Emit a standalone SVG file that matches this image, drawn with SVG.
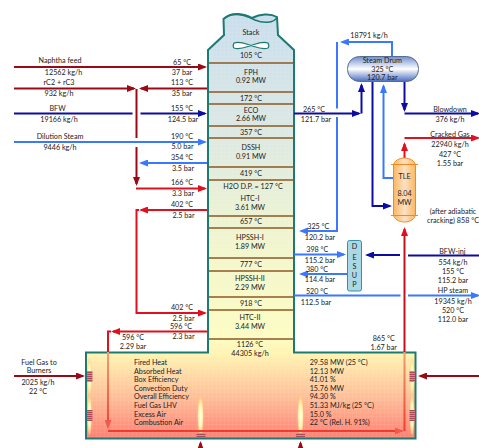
<svg xmlns="http://www.w3.org/2000/svg" width="479" height="448" viewBox="0 0 479 448">
<style>
text{font-family:"Lato","Carlito","Liberation Sans",sans-serif;font-size:7.2px;fill:#222;text-anchor:middle}
text.l{text-anchor:start}
.c{fill:none;stroke-width:2}
.dr{stroke:#9a0a16}.r{stroke:#e0101e}.db{stroke:#0c0ca4}.b{stroke:#3a78ff}
.tray{stroke:#8a5a24;stroke-width:1.3}
.h{fill:url(#hatch);stroke:none}
</style>
<defs>
<linearGradient id="body" gradientUnits="userSpaceOnUse" x1="0" y1="14" x2="0" y2="439">
<stop offset="0" stop-color="#c9deee"/><stop offset=".27" stop-color="#dbe8e4"/><stop offset=".55" stop-color="#f2f6cc"/><stop offset=".76" stop-color="#fdfcc2"/><stop offset=".8" stop-color="#fff4b0"/><stop offset=".9" stop-color="#ffbf98"/><stop offset="1" stop-color="#ff7f72"/>
</linearGradient>
<pattern id="grid" width="4" height="4" patternUnits="userSpaceOnUse"><path d="M4 0H0V4" fill="none" stroke="#fff" stroke-opacity=".22" stroke-width=".5"/></pattern>
<pattern id="hatch" width="2" height="2" patternUnits="userSpaceOnUse"><rect width="2" height="2" fill="#d88a90"/><rect width="2" height="1" fill="#a84a5a"/></pattern>
<linearGradient id="fade" gradientUnits="userSpaceOnUse" x1="0" y1="352" x2="0" y2="431"><stop offset="0" stop-color="#f0a070"/><stop offset="1" stop-color="#ee3c30"/></linearGradient>
<linearGradient id="drum" x1="0" y1="0" x2="0" y2="1"><stop offset="0" stop-color="#6f8fd0"/><stop offset=".5" stop-color="#fff"/><stop offset="1" stop-color="#4a6cc0"/></linearGradient>
<linearGradient id="tle" x1="0" y1="0" x2="1" y2="0"><stop offset="0" stop-color="#fbb860"/><stop offset=".5" stop-color="#fde0c4"/><stop offset="1" stop-color="#fbb860"/></linearGradient>
<radialGradient id="flame"><stop offset="0" stop-color="#fffff0"/><stop offset=".6" stop-color="#fff6b0"/><stop offset="1" stop-color="#ffd080" stop-opacity=".5"/></radialGradient>
<marker id="adr" markerUnits="userSpaceOnUse" markerWidth="9" markerHeight="7" refX="7" refY="3.5" orient="auto"><path d="M0 0L9 3.5L0 7Z" fill="#9a0a16"/></marker>
<marker id="ar" markerUnits="userSpaceOnUse" markerWidth="9" markerHeight="7" refX="7" refY="3.5" orient="auto"><path d="M0 0L9 3.5L0 7Z" fill="#e0101e"/></marker>
<marker id="adb" markerUnits="userSpaceOnUse" markerWidth="9" markerHeight="7" refX="7" refY="3.5" orient="auto"><path d="M0 0L9 3.5L0 7Z" fill="#0c0ca4"/></marker>
<marker id="ab" markerUnits="userSpaceOnUse" markerWidth="9" markerHeight="7" refX="7" refY="3.5" orient="auto"><path d="M0 0L9 3.5L0 7Z" fill="#3a78ff"/></marker>
<marker id="af" markerUnits="userSpaceOnUse" markerWidth="9" markerHeight="7" refX="7" refY="3.5" orient="auto"><path d="M0 0L9 3.5L0 7Z" fill="#f05a48"/></marker>
</defs>

<g id="furnace-column">
<path id="outline" d="M208 50L224 35L223.500 19C232 11 245 14 252 18C260 14 270 13 277 17L278 35L294 50V352.500H415.500V438.500H86V352.500H208Z" fill="url(#body)" stroke="none"/>
<path d="M208 50L224 35L223.500 19C232 11 245 14 252 18C260 14 270 13 277 17L278 35L294 50V352.500H415.500V438.500H86V352.500H208Z" fill="url(#grid)" stroke="#1d7a72" stroke-width="2"/>
<path d="M223.500 19C232 11 245 15 255 20C262 23 274 24 277 17" fill="none" stroke="#1d7a72" stroke-width="1.500"/>
<path d="M234 43C240 41 246 44 251 45.500C256 44 262 41 268 43C269 45 269 47 268 48C262 50 256 47 251 45.500C246 47 240 50 234 48C233 47 233 45 234 43Z" fill="#fff" stroke="#1d7a72" stroke-width="1.200"/>
<g class="trays">
<path class="tray" d="M209 63H293M209 92H293M209 104H293M209 126H293M209 138H293M209 167H293M209 180H293M209 216H293M209 228H293M209 258H293M209 271H293M209 297H293M209 310H293M209 339H293"/>
</g>
<text x="251" y="34.700">Stack</text>
<text x="251" y="58">105 °C</text>
<text x="251" y="74.700">FPH</text>
<text x="251" y="83">0.92 MW</text>
<text x="251" y="100.700">172 °C</text>
<text x="251" y="113">ECO</text>
<text x="251" y="121">2.66 MW</text>
<text x="251" y="134.700">357 °C</text>
<text x="251" y="149.700">DSSH</text>
<text x="251" y="158.700">0.91 MW</text>
<text x="251" y="176">419 °C</text>
<text x="253" y="188.700">H2O D.P. = 127 °C</text>
<text x="250" y="201.300">HTC-I</text>
<text x="250" y="210">3.61 MW</text>
<text x="251" y="223.700">657 °C</text>
<text x="250" y="240.300">HPSSH-I</text>
<text x="250" y="249">1.89 MW</text>
<text x="251" y="267">777 °C</text>
<text x="250" y="281.300">HPSSH-II</text>
<text x="250" y="290">2.29 MW</text>
<text x="251" y="306.300">918 °C</text>
<text x="250" y="320.300">HTC-II</text>
<text x="250" y="329.300">3.44 MW</text>
<text x="250" y="347.300">1126 °C</text>
<text x="250" y="356.300">44305 kg/h</text>
</g>

<g id="burners">
<ellipse cx="89.500" cy="377" rx="2.500" ry="19" fill="url(#flame)"/>
<ellipse cx="89.500" cy="415" rx="2.500" ry="20" fill="url(#flame)"/>
<ellipse cx="412" cy="377" rx="2.500" ry="19" fill="url(#flame)"/>
<ellipse cx="412" cy="415" rx="2.500" ry="20" fill="url(#flame)"/>
<ellipse cx="200.500" cy="416" rx="3.200" ry="20" fill="url(#flame)"/>
<ellipse cx="300.500" cy="416" rx="3.200" ry="20" fill="url(#flame)"/>
<rect class="h" x="87" y="371" width="5.500" height="11"/>
<rect class="h" x="87" y="410" width="5.500" height="11"/>
<rect class="h" x="409.500" y="371" width="5.500" height="11"/>
<rect class="h" x="409.500" y="410" width="5.500" height="11"/>
<rect class="h" x="196.500" y="433" width="9" height="4"/>
<rect class="h" x="296" y="433" width="9" height="4"/>
</g>

<g id="connectors">
<path class="c dr" d="M14 67H205" marker-end="url(#adr)"/>
<path class="c dr" d="M14 88.500H134" marker-end="url(#adr)"/>
<path class="c dr" d="M207 88.500H141" marker-end="url(#adr)"/>
<path class="c dr" d="M136.500 89V138"/>
<path class="c dr" d="M136.500 147V184" marker-end="url(#adr)"/>
<path class="c db" d="M14 113.500H132.500"/>
<path class="c db" d="M140.500 113.500H205" marker-end="url(#adb)"/>
<path class="c b" d="M14 142H205" marker-end="url(#ab)"/>
<path class="c b" d="M207 163H141" marker-end="url(#ab)"/>
<path class="c r" d="M136 188.500H205" marker-end="url(#ar)"/>
<path class="c r" d="M207 210H141" marker-end="url(#ar)"/>
<path class="c r" d="M139 210H136.500V313H205" marker-end="url(#ar)"/>
<path class="c r" d="M207 331.500H113" marker-end="url(#ar)"/>
<path class="c r" d="M111 331.500H108V352"/>
<path d="M108 352V427" fill="none" stroke="url(#fade)" stroke-width="2" marker-end="url(#af)"/>
<path class="c" style="stroke:#ee3c30" d="M108 431H402" marker-end="url(#af)"/>
<path d="M404.500 352V431" fill="none" stroke="url(#fade)" stroke-width="2"/>
<path class="c" style="stroke:#c4101e" d="M404.500 352V229" marker-end="url(#ar)"/>
<path class="c r" d="M404.500 158V144" marker-end="url(#ar)"/>
<path class="c r" d="M404.500 138H478" marker-end="url(#ar)"/>
<path class="c db" d="M294 113.500H359" marker-end="url(#adb)"/>
<path class="c db" d="M361.500 113.500V85" marker-end="url(#adb)"/>
<path class="c b" d="M392 56V42H342" marker-end="url(#ab)"/>
<path class="c b" d="M337 42V108.500"/>
<path class="c b" d="M337 117V231H301" marker-end="url(#ab)"/>
<path class="c db" d="M372.500 82V206H390" marker-end="url(#adb)"/>
<path class="c b" d="M393 178H383.500V86" marker-end="url(#ab)"/>
<path class="c db" d="M404.500 82V110" marker-end="url(#adb)"/>
<path class="c db" d="M404.500 113.500H478" marker-end="url(#adb)"/>
<path class="c b" d="M294 254.500H344" marker-end="url(#ab)"/>
<path class="c b" d="M347 274H301" marker-end="url(#ab)"/>
<path class="c db" d="M400 255H367" marker-end="url(#adb)"/>
<path class="c db" d="M408 255.500H479"/>
<path class="c b" d="M294 295.500H400.500"/>
<path class="c b" d="M408 295.500H478" marker-end="url(#ab)"/>
<path class="c dr" d="M14 376H83" marker-end="url(#adr)"/>
<path class="c dr" d="M479 376H420" marker-end="url(#adr)"/>
<path class="c dr" d="M200.500 448V443" marker-end="url(#adr)"/>
<path class="c dr" d="M300.500 448V443" marker-end="url(#adr)"/>
</g>

<g id="steam-drum">
<rect x="347.500" y="56.500" width="71" height="25" rx="12" fill="url(#drum)" stroke="#5a6a8a" stroke-width="1"/>
<text x="382.300" y="63.300">Steam Drum</text>
<text x="382.300" y="72">325 °C</text>
<text x="382.300" y="80.300">120.7 bar</text>
</g>
<g id="tle-exchanger">
<path d="M393.500 166C393.500 161 399 158 404.500 158C410 158 415.500 161 415.500 166V214C415.500 219 410 222 404.500 222C399 222 393.500 219 393.500 214Z" fill="url(#tle)" stroke="#ee8a20" stroke-width="1"/>
<path d="M391 164.500H418M391 215.500H418" stroke="#ee8a20" stroke-width="1.200"/>
<text x="404.500" y="179">TLE</text>
<text x="404.500" y="196.300">8.04</text>
<text x="404.500" y="204.700">MW</text>
</g>
<g id="desup">
<rect x="347.500" y="240.500" width="14" height="50.500" rx="2" fill="#a9d8e6" stroke="#3a8fa0" stroke-width="1"/>
<text x="354.500" y="249">D</text>
<text x="354.500" y="260">E</text>
<text x="354.500" y="269">S</text>
<text x="354.500" y="278">U</text>
<text x="354.500" y="287">P</text>
</g>

<g id="labels">
<text x="60" y="63">Naphtha feed</text>
<text x="63.500" y="74.700">12562 kg/h</text>
<text x="59" y="85">rC2 + rC3</text>
<text x="59" y="96">932 kg/h</text>
<text x="57.500" y="110.700">BFW</text>
<text x="59" y="122">19166 kg/h</text>
<text x="60" y="138.700">Dilution Steam</text>
<text x="60" y="149.700">9446 kg/h</text>
<text x="182" y="64.700">65 °C</text>
<text x="182" y="75">37 bar</text>
<text x="182" y="85">113 °C</text>
<text x="182" y="96">35 bar</text>
<text x="182" y="111">155 °C</text>
<text x="183" y="122">124.5 bar</text>
<text x="182" y="138.700">190 °C</text>
<text x="182.500" y="149">5.0 bar</text>
<text x="182" y="159.700">354 °C</text>
<text x="183" y="170.700">3.5 bar</text>
<text x="182" y="185">166 °C</text>
<text x="183" y="196">3.3 bar</text>
<text x="182" y="207">402 °C</text>
<text x="183.500" y="218">2.5 bar</text>
<text x="182" y="310">402 °C</text>
<text x="183.500" y="320.700">2.5 bar</text>
<text x="181" y="329">596 °C</text>
<text x="183.500" y="339">2.3 bar</text>
<text x="133" y="340">596 °C</text>
<text x="133" y="348.700">2.29 bar</text>
<text x="39" y="364.700">Fuel Gas to</text>
<text x="39" y="373">Burners</text>
<text x="38" y="385">2025 kg/h</text>
<text x="38" y="393.700">22 °C</text>
<text class="l" x="134" y="365">Fired Heat</text>
<text class="l" x="134" y="373.700">Absorbed Heat</text>
<text class="l" x="134" y="382">Box Efficiency</text>
<text class="l" x="134" y="390.700">Convection Duty</text>
<text class="l" x="134" y="399.300">Overall Efficiency</text>
<text class="l" x="134" y="408">Fuel Gas LHV</text>
<text class="l" x="134" y="416.700">Excess Air</text>
<text class="l" x="134" y="425">Combustion Air</text>
<text class="l" x="309.700" y="365">29.58 MW (25 °C)</text>
<text class="l" x="309.700" y="373.700">12.13 MW</text>
<text class="l" x="309.700" y="382">41.01 %</text>
<text class="l" x="309.700" y="390.700">15.76 MW</text>
<text class="l" x="309.700" y="399.300">94.30 %</text>
<text class="l" x="309.700" y="408">51.33 MJ/kg (25 °C)</text>
<text class="l" x="309.700" y="416.700">15.0 %</text>
<text class="l" x="309.700" y="425">22 °C (Rel. H. 91%)</text>
<text x="369" y="38.300">18791 kg/h</text>
<text x="314" y="111.700">265 °C</text>
<text x="316" y="122.300">121.7 bar</text>
<text x="450" y="111.700">Blowdown</text>
<text x="450" y="122.300">376 kg/h</text>
<text x="450" y="136.700">Cracked Gas</text>
<text x="450" y="147">22940 kg/h</text>
<text x="450" y="157.300">427 °C</text>
<text x="450" y="166">1.55 bar</text>
<text x="453" y="214.300">(after adiabatic</text>
<text x="453" y="223">cracking) 858 °C</text>
<text x="318.300" y="229.300">325 °C</text>
<text x="320" y="240.300">120.2 bar</text>
<text x="317.300" y="251.700">398 °C</text>
<text x="320" y="262.700">115.2 bar</text>
<text x="317" y="271.700">380 °C</text>
<text x="320" y="282.300">114.4 bar</text>
<text x="317" y="294">520 °C</text>
<text x="316" y="305">112.5 bar</text>
<text x="452.300" y="254.300">BFW-inj</text>
<text x="453" y="264.700">554 kg/h</text>
<text x="453" y="274">155 °C</text>
<text x="453" y="283">115.2 bar</text>
<text x="453" y="293.300">HP steam</text>
<text x="453" y="304">19345 kg/h</text>
<text x="453" y="313">520 °C</text>
<text x="453" y="321.700">112.0 bar</text>
<text x="383.700" y="341">865 °C</text>
<text x="383.700" y="349.700">1.67 bar</text>
</g>
</svg>
